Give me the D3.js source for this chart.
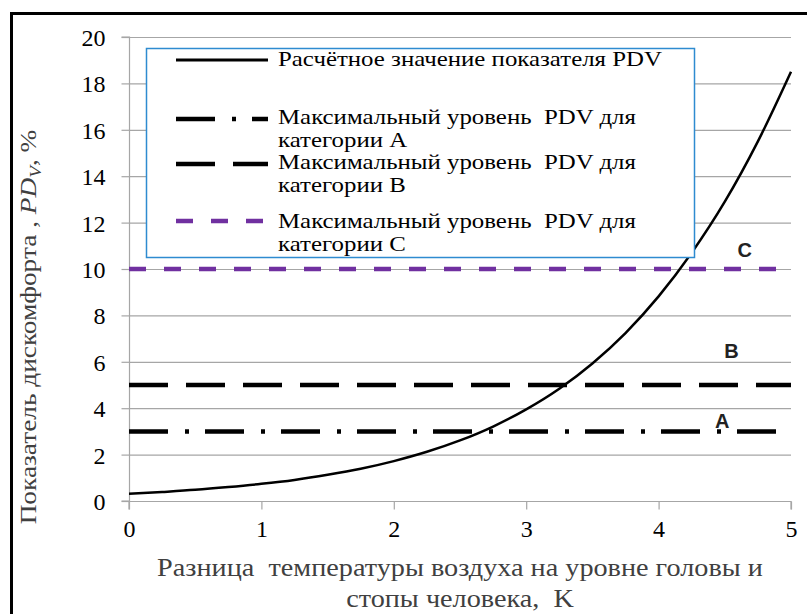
<!DOCTYPE html>
<html><head><meta charset="utf-8">
<script src="https://cdn.jsdelivr.net/npm/d3@7"></script>
<style>body{margin:0;background:#fff}svg{display:block}</style>
</head><body>
<svg id="c" width="807" height="614"></svg>
<script>
// ---- data ----
const dT = [0,0.25,0.5,0.75,1,1.25,1.5,1.75,2,2.25,2.5,2.75,3,3.25,3.5,3.75,4,4.25,4.5,4.75,5];
const pdv = [0.31,0.39,0.48,0.6,0.74,0.91,1.13,1.39,1.72,2.12,2.61,3.21,3.95,4.84,5.93,7.24,8.82,10.7,12.9,15.5,18.5];
const levelNames = ["A","B","C"];
const levelValues = [3,5,10];
const xTicks = [0,1,2,3,4,5];
const yTicks = [0,2,4,6,8,10,12,14,16,18,20];
const legendLabels = [
  ["Расчётное значение показателя PDV"],
  ["Максимальный уровень  PDV для","категории А"],
  ["Максимальный уровень  PDV для","категории B"],
  ["Максимальный уровень  PDV для","категории C"]
];
const xTitle = ["Разница  температуры воздуха на уровне головы и","стопы человека,  K"];

const SERIF = '"Liberation Serif"';
const svg = d3.select("#c");
const x = d3.scaleLinear().domain([0,5]).range([129,791]);
const y = d3.scaleLinear().domain([0,20]).range([501,37]);

function sf(sel, px){ return sel.style("font-family",SERIF).style("font-size",px+"px").style("white-space","pre"); }
function natWidth(str, px){
  const t = sf(svg.append("text"),px).text(str);
  const w = t.node().getComputedTextLength();
  t.remove();
  return w;
}

svg.append("rect").attr("x",11.5).attr("y",13.5).attr("width",900).attr("height",700)
  .attr("fill","none").attr("stroke","#000").attr("stroke-width",3);

svg.append("g").selectAll("line").data(yTicks.filter(d=>d>0)).join("line")
  .attr("x1",x(0)).attr("x2",x(5)).attr("y1",d=>y(d)+0.5).attr("y2",d=>y(d)+0.5)
  .attr("stroke","#a6a6a6").attr("stroke-width",1.2);

const tickFs = 24;
const yAxis = svg.append("g").attr("transform",`translate(${x(0)+0.5},0)`)
  .call(d3.axisLeft(y).tickValues(yTicks).tickSize(8).tickPadding(16).tickFormat(d3.format("d")));
const xAxis = svg.append("g").attr("transform",`translate(0,${y(0)+0.5})`)
  .call(d3.axisBottom(x).tickValues(xTicks).tickSize(8).tickPadding(10).tickFormat(d3.format("d")));
[yAxis,xAxis].forEach(a=>{
  a.attr("font-family",null).attr("font-size",null);
  a.select(".domain").attr("stroke","#a6a6a6").attr("stroke-width",1.2);
  a.selectAll(".tick line").attr("stroke","#a6a6a6").attr("stroke-width",1.2);
  sf(a.selectAll("text"),tickFs).attr("fill","#000");
});
yAxis.selectAll("text").attr("dy","0.35em");
xAxis.select(".domain").attr("d",`M${x(0)},8V0H${x(5)}V8`);
yAxis.select(".domain").attr("d",`M-8,${y(20)}H0V${y(0)}H-8`);

const styles = {
  A:{stroke:"#000",w:4.5,dash:"39 17 4 16"},
  B:{stroke:"#000",w:4.5,dash:"39 18"},
  C:{stroke:"#7030a0",w:4.5,dash:"17 18"}
};
svg.append("g").selectAll("line").data(levelNames).join("line")
  .attr("x1",x(0)).attr("x2",x(5))
  .attr("y1",(d,i)=>y(levelValues[i])).attr("y2",(d,i)=>y(levelValues[i]))
  .attr("stroke",d=>styles[d].stroke).attr("stroke-width",d=>styles[d].w)
  .attr("stroke-dasharray",d=>styles[d].dash);

svg.append("path").datum(dT.map((d,i)=>[d,pdv[i]]))
  .attr("d",d3.line().x(d=>x(d[0])).y(d=>y(d[1])).curve(d3.curveMonotoneX))
  .attr("fill","none").attr("stroke","#000").attr("stroke-width",2.5);

const letterPos = {A:[4.48,3.15],B:[4.55,6.16],C:[4.65,10.5]};
svg.append("g").selectAll("text").data(levelNames).join("text")
  .attr("x",d=>x(letterPos[d][0])).attr("y",d=>y(letterPos[d][1]))
  .attr("text-anchor","middle").style("font-family",'"Liberation Sans"')
  .style("font-weight","bold").style("font-size","20px").attr("fill","#222").text(d=>d);

// legend
const lg = svg.append("g");
lg.append("rect").attr("x",146.5).attr("y",48.5).attr("width",548).attr("height",209)
  .attr("fill","#fff").attr("stroke","#2e8bd0").attr("stroke-width",1.5);
const legFs = 22;
const legSx = 358 / natWidth(legendLabels[1][0], legFs);
const legendLineY = [60,119,164,221];
const legendTextY = [66,124,169,228];
const legendKeys = ["curve","A","B","C"];
legendKeys.forEach((k,i)=>{
  const ly = legendLineY[i];
  const ln = lg.append("line").attr("x1",176).attr("x2",268).attr("y1",ly).attr("y2",ly);
  if(k==="curve") ln.attr("stroke","#000").attr("stroke-width",2.8);
  else ln.attr("stroke",styles[k].stroke).attr("stroke-width",styles[k].w)
        .attr("stroke-dasharray",styles[k].dash);
  const t = sf(lg.append("text"),legFs).attr("x",0).attr("y",legendTextY[i]).attr("fill","#000")
    .attr("transform",`translate(278,0) scale(${legSx},1)`);
  legendLabels[i].forEach((s,j)=>t.append("tspan").attr("x",0).attr("dy",j?23:0).text(s));
});

// y title
const ytFs = 23;
const ytSx = Math.max(1, 398 / natWidth("Показатель дискомфорта , PDV, %", ytFs));
const yt = sf(svg.append("text"),ytFs).attr("transform",`translate(36,327) rotate(-90) scale(${ytSx},1)`)
  .attr("text-anchor","middle").attr("fill","#404040");
yt.append("tspan").text("Показатель дискомфорта , ");
yt.append("tspan").style("font-style","italic").text("PD");
yt.append("tspan").style("font-style","italic").style("font-size",(ytFs*0.7)+"px").attr("dy",5).text("V");
yt.append("tspan").attr("dy",-5).text(", %");

// x title
const xtFs = 25;
const xtSx = Math.max(1, 606 / natWidth(xTitle[0], xtFs));
const xt = sf(svg.append("text"),xtFs).attr("text-anchor","middle").attr("fill","#404040")
  .attr("transform",`translate(460,0) scale(${xtSx},1)`);
xt.append("tspan").attr("x",0).attr("y",576).text(xTitle[0]);
xt.append("tspan").attr("x",0).attr("y",607).text(xTitle[1]);
</script>
</body></html>
